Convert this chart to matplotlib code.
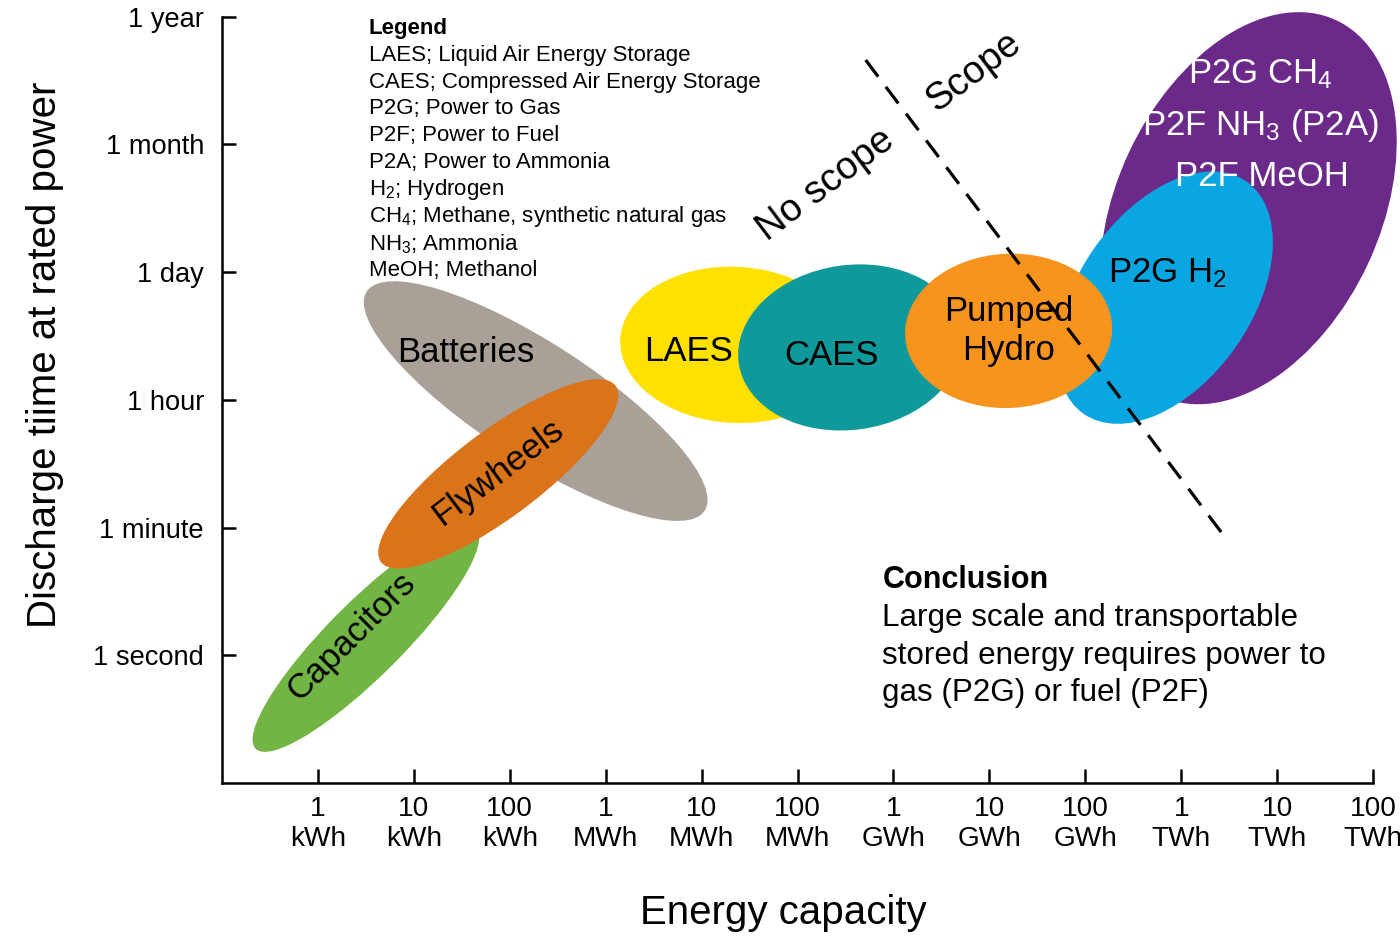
import matplotlib
matplotlib.use("Agg")
import matplotlib.pyplot as plt
from matplotlib.patches import Ellipse
from matplotlib.transforms import Affine2D

plt.rcParams['font.family'] = ['Liberation Sans', 'DejaVu Sans']
plt.rcParams['mathtext.fontset'] = 'custom'
plt.rcParams['mathtext.rm'] = 'Liberation Sans'
plt.rcParams['mathtext.it'] = 'Liberation Sans'

# axes: x = log10(energy / kWh), y = index of discharge time tick
x_ticks = list(range(12))
x_labels = ["1\nkWh", "10\nkWh", "100\nkWh", "1\nMWh", "10\nMWh", "100\nMWh",
            "1\nGWh", "10\nGWh", "100\nGWh", "1\nTWh", "10\nTWh", "100\nTWh"]
y_ticks = [0, 1, 2, 3, 4, 5]
y_labels = ["1 second", "1 minute", "1 hour", "1 day", "1 month", "1 year"]

# technology regions (centre x, centre y, width in decades, height in decades, tilt)
techs = ["Capacitors", "Batteries", "Flywheels", "LAES", "CAES",
         "P2G other", "P2G H2", "Pumped Hydro"]
cx = [0.50, 2.27, 1.88, 4.35, 5.55, 9.70, 8.83, 7.20]
cy = [0.13, 1.99, 1.42, 2.43, 2.41, 3.50, 2.80, 2.54]
wd = [3.25, 4.20, 3.06, 2.40, 2.35, 4.33, 2.96, 2.16]
ht = [0.78, 1.21, 0.90, 1.63, 1.72, 2.75, 1.80, 1.61]
tilt = [45, -33, 37, -3, 8, 65, 55, 3]
colors = ["#72b545", "#a9a097", "#da741b", "#ffe100", "#10999a",
          "#6b2a8a", "#0aa6e1", "#f7941e"]

legend_lines = ["LAES; Liquid Air Energy Storage",
                "CAES; Compressed Air Energy Storage",
                "P2G; Power to Gas",
                "P2F; Power to Fuel",
                "P2A; Power to Ammonia",
                "H$_2$; Hydrogen",
                "CH$_4$; Methane, synthetic natural gas",
                "NH$_3$; Ammonia",
                "MeOH; Methanol"]
conclusion_lines = ["Large scale and transportable",
                    "stored energy requires power to",
                    "gas (P2G) or fuel (P2F)"]
scope_line_x = [5.71, 9.43]
scope_line_y = [4.66, 0.95]

YS = 4.0 / 3.0  # one y unit is 4/3 as tall as one decade is wide


def main():
    fig = plt.figure(figsize=(14, 9.36), dpi=100)
    ax = fig.add_axes([222 / 1400, 153 / 936, 1178 / 1400, 783 / 936])
    ax.set_xlim(-1, 11.28)
    ax.set_ylim(-1, 5.13)

    for sp in ['top', 'right']:
        ax.spines[sp].set_visible(False)
    ax.spines['left'].set_bounds(-1, 5)
    ax.spines['bottom'].set_bounds(-1, 11)
    for sp in ['left', 'bottom']:
        ax.spines[sp].set_linewidth(1.8)

    ax.set_xticks(x_ticks)
    ax.set_xticklabels(x_labels, fontsize=20.2)
    ax.set_yticks(y_ticks)
    ax.set_yticklabels(y_labels, fontsize=19.6)
    ax.tick_params(axis='x', direction='in', length=10, width=1.8, pad=9.5)
    ax.tick_params(axis='y', direction='in', length=10, width=1.8, pad=13)

    tr = Affine2D().scale(1, 1 / YS) + ax.transData
    for i in range(len(techs)):
        e = Ellipse((cx[i], cy[i] * YS), wd[i], ht[i], angle=tilt[i],
                    facecolor=colors[i], edgecolor='none', zorder=2 + i,
                    transform=tr)
        ax.add_patch(e)

    lab = dict(fontsize=25, ha='center', va='center', zorder=20)
    ax.text(0.35, 0.15, "Capacitors", rotation=45, **lab)
    ax.text(1.54, 2.37, "Batteries", **lab)
    ax.text(1.88, 1.43, "Flywheels", rotation=37, **lab)
    ax.text(3.86, 2.38, "LAES", **lab)
    ax.text(5.35, 2.35, "CAES", **lab)
    ax.text(7.20, 2.54, "Pumped\nHydro", linespacing=1.25, **lab)
    ax.text(8.86, 2.99, "P2G H$_2$", **lab)
    wlab = dict(lab, color='white')
    ax.text(9.82, 4.55, "P2G CH$_4$", **wlab)
    ax.text(9.82, 4.15, "P2F NH$_3$ (P2A)", **wlab)
    ax.text(9.84, 3.75, "P2F MeOH", **wlab)

    ax.plot(scope_line_x, scope_line_y, color='black', lw=2.3,
            dashes=(6.5, 4), zorder=30)
    ax.text(5.29, 3.68, "No scope", rotation=37, fontsize=27.5,
            ha='center', va='center', zorder=20)
    ax.text(6.84, 4.57, "Scope", rotation=37, fontsize=27.5,
            ha='center', va='center', zorder=20)

    # legend block
    ax.text(0.53, 4.91, "Legend", fontsize=16, fontweight='bold',
            ha='left', va='center')
    for i, line in enumerate(legend_lines):
        ax.text(0.53, 4.91 - 0.211 * (i + 1), line, fontsize=16,
                ha='left', va='center', zorder=1)

    # conclusion block
    ax.text(5.885, 0.586, "Conclusion", fontsize=22, fontweight='bold',
            ha='left', va='center')
    for i, line in enumerate(conclusion_lines):
        ax.text(5.885, 0.586 - 0.295 * (i + 1), line, fontsize=22.6,
                ha='left', va='center')

    fig.text(45 / 1400, 1 - 355 / 936, "Discharge tiime at rated power",
             rotation=90, fontsize=29, ha='center', va='center')
    fig.text(783 / 1400, 1 - 913 / 936, "Energy capacity", fontsize=29,
             ha='center', va='center')

    fig.savefig("out.png", dpi=100)


if __name__ == "__main__":
    main()
